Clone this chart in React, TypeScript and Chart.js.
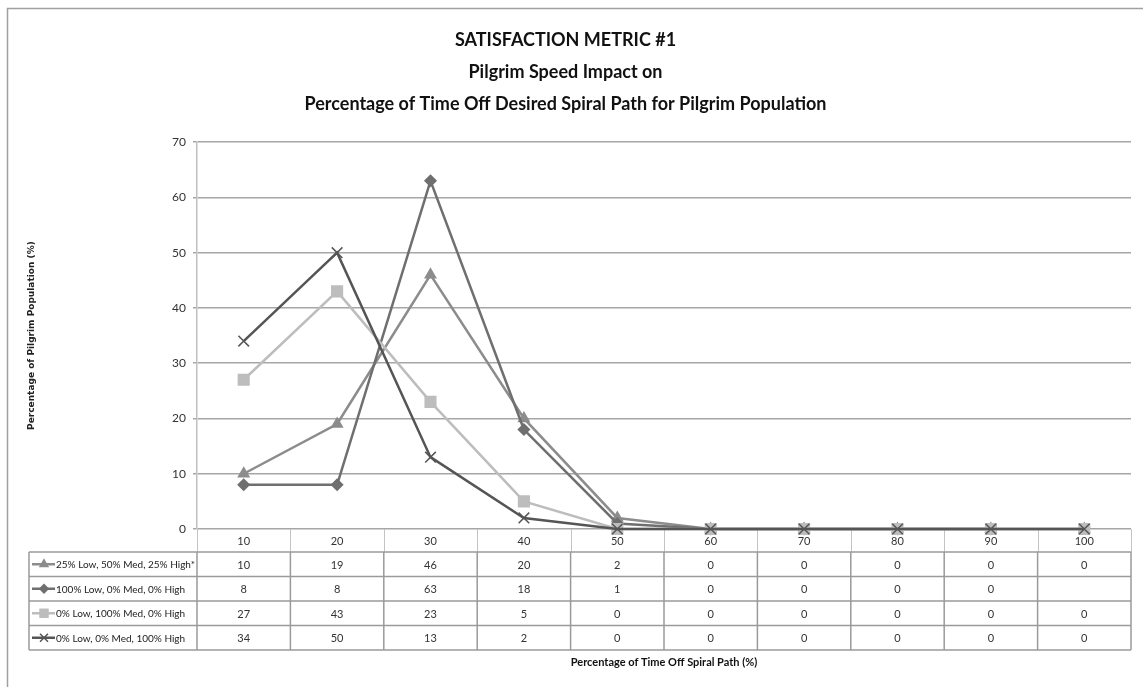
import React, { useEffect, useRef } from 'react';
import { Chart, registerables } from 'chart.js';
import { drawPoint } from 'chart.js/helpers';

Chart.register(...registerables);

const categories = ['10', '20', '30', '40', '50', '60', '70', '80', '90', '100'];
const seriesNames = [
  '25% Low, 50% Med, 25% High*',
  '100% Low, 0% Med, 0% High',
  '0% Low, 100% Med, 0% High',
  '0% Low, 0% Med, 100% High',
];
const mixedSeries = [10, 19, 46, 20, 2, 0, 0, 0, 0, 0];
const lowSeries = [8, 8, 63, 18, 1, 0, 0, 0, 0, null];
const medSeries = [27, 43, 23, 5, 0, 0, 0, 0, 0, 0];
const highSeries = [34, 50, 13, 2, 0, 0, 0, 0, 0, 0];
const titleLines = [
  'SATISFACTION METRIC #1',
  'Pilgrim Speed Impact on',
  'Percentage of Time Off Desired Spiral Path for Pilgrim Population',
];
const xTitle = 'Percentage of Time Off Spiral Path (%)';
const yTitle = 'Percentage of Pilgrim Population (%)';

const seriesData = [mixedSeries, lowSeries, medSeries, highSeries];
const seriesColors = ['#8c8c8c', '#6f6f6f', '#bdbdbd', '#555555'];
const seriesStyles = ['triangle', 'rectRot', 'rect', 'crossRot'];
const seriesRadius = [6, 5.5, 7.5, 7.5];

const FONT = 'Lato, "Open Sans", sans-serif';

const framePlugin = {
  id: 'frame',
  beforeDraw(chart: any) {
    const ctx = chart.ctx;
    ctx.save();
    ctx.fillStyle = '#ffffff';
    ctx.fillRect(0, 0, chart.width, chart.height);
    ctx.strokeStyle = '#a0a0a0';
    ctx.lineWidth = 1.5;
    ctx.beginPath();
    ctx.moveTo(7.5, chart.height);
    ctx.lineTo(7.5, 8.5);
    ctx.lineTo(chart.width, 8.5);
    ctx.stroke();
    ctx.restore();
  },
};

const tablePlugin = {
  id: 'dataTable',
  beforeDatasetsDraw(chart: any) {
    const ctx = chart.ctx;
    const xs = chart.scales.x;
    const area = chart.chartArea;
    const n = categories.length;
    const edges: number[] = [];
    for (let i = 0; i <= n; i++) edges.push(xs.getPixelForValue(i - 0.5));
    const centers = categories.map((_, i) => xs.getPixelForValue(i));
    const hy0 = area.bottom;
    const hy1 = hy0 + 23;
    const rowH = 24.5;
    const rows = seriesNames.length;
    const tBottom = hy1 + rowH * rows;
    const legendLeft = 29;
    const right = edges[n];

    ctx.save();
    // header row verticals
    ctx.strokeStyle = '#c4c4c4';
    ctx.lineWidth = 1;
    edges.forEach((e) => {
      ctx.beginPath();
      ctx.moveTo(Math.round(e) + 0.5, hy0);
      ctx.lineTo(Math.round(e) + 0.5, hy1);
      ctx.stroke();
    });
    // data rows grid
    ctx.strokeStyle = '#9a9a9a';
    ctx.lineWidth = 1.5;
    for (let r = 0; r <= rows; r++) {
      const y = hy1 + r * rowH;
      ctx.beginPath();
      ctx.moveTo(legendLeft, y);
      ctx.lineTo(right, y);
      ctx.stroke();
    }
    [legendLeft, ...edges].forEach((e) => {
      ctx.beginPath();
      ctx.moveTo(e, hy1);
      ctx.lineTo(e, tBottom);
      ctx.stroke();
    });

    // header labels
    ctx.fillStyle = '#333333';
    ctx.font = `11px ${FONT}`;
    ctx.textAlign = 'center';
    ctx.textBaseline = 'middle';
    centers.forEach((c, i) => ctx.fillText(categories[i], c, (hy0 + hy1) / 2 + 1));

    // rows
    seriesNames.forEach((name, r) => {
      const cy = hy1 + r * rowH + rowH / 2 + 1;
      const data = seriesData[r];
      ctx.fillStyle = '#333333';
      ctx.font = `11px ${FONT}`;
      ctx.textAlign = 'center';
      data.forEach((v, i) => {
        if (v !== null && v !== undefined) ctx.fillText(String(v), centers[i], cy);
      });
      // legend key
      ctx.strokeStyle = seriesColors[r];
      ctx.fillStyle = seriesColors[r];
      ctx.lineWidth = 2.5;
      ctx.beginPath();
      ctx.moveTo(32, cy - 1);
      ctx.lineTo(55, cy - 1);
      ctx.stroke();
      ctx.lineWidth = 1.5;
      drawPoint(ctx, { pointStyle: seriesStyles[r], radius: seriesRadius[r] * 0.75, rotation: 0, borderWidth: 1.5 } as any, 44, cy - 1);
      ctx.fillStyle = '#222222';
      ctx.font = `10px ${FONT}`;
      ctx.textAlign = 'left';
      ctx.fillText(name, 56, cy);
    });

    // x axis title
    ctx.fillStyle = '#111111';
    ctx.font = `bold 11px ${FONT}`;
    ctx.textAlign = 'center';
    ctx.fillText(xTitle, (area.left + area.right) / 2, 662);
    ctx.restore();
  },
};

export default function App() {
  const ref = useRef<HTMLCanvasElement>(null);
  useEffect(() => {
    if (!ref.current) return;
    const chart = new Chart(ref.current, {
      type: 'line',
      data: {
        labels: categories,
        datasets: seriesNames.map((name, i) => ({
          label: name,
          data: seriesData[i],
          borderColor: seriesColors[i],
          backgroundColor: seriesColors[i],
          pointBackgroundColor: seriesColors[i],
          pointBorderColor: seriesColors[i],
          pointStyle: seriesStyles[i] as any,
          pointRadius: seriesRadius[i],
          pointBorderWidth: 1.5,
          borderWidth: 2.5,
          tension: 0,
          spanGaps: false,
          clip: false as any,
          order: seriesNames.length - i,
        })),
      },
      options: {
        responsive: false,
        animation: false,
        layout: { padding: { left: 0, right: 12, top: 0, bottom: 158 } },
        plugins: {
          legend: { display: false },
          tooltip: { enabled: false },
          title: {
            display: true,
            text: titleLines,
            color: '#111111',
            font: { family: FONT, size: 18, weight: 'bold', lineHeight: 1.78 },
            padding: { top: 24, bottom: 22 },
          },
        },
        scales: {
          x: {
            type: 'category',
            offset: true,
            display: false,
          },
          y: {
            min: 0,
            max: 70,
            ticks: {
              stepSize: 10,
              color: '#333333',
              font: { family: FONT, size: 12 },
              padding: 7,
            },
            grid: { color: '#a6a6a6', lineWidth: 1.5, tickLength: 4 },
            border: { color: '#c0c0c0', width: 1.5 },
            title: {
              display: true,
              text: yTitle,
              color: '#222222',
              font: { family: '"DejaVu Sans", sans-serif', size: 9, weight: 'bold' },
              padding: { top: 26, bottom: 0 },
            },
            afterFit(scale: any) {
              scale.width = 197;
            },
          },
        },
      },
      plugins: [framePlugin, tablePlugin],
    });
    return () => chart.destroy();
  }, []);
  return (
    <div style={{ position: 'absolute', left: 0, top: 0, width: 1143, height: 687 }}>
      <canvas ref={ref} width={1143} height={687} />
    </div>
  );
}
